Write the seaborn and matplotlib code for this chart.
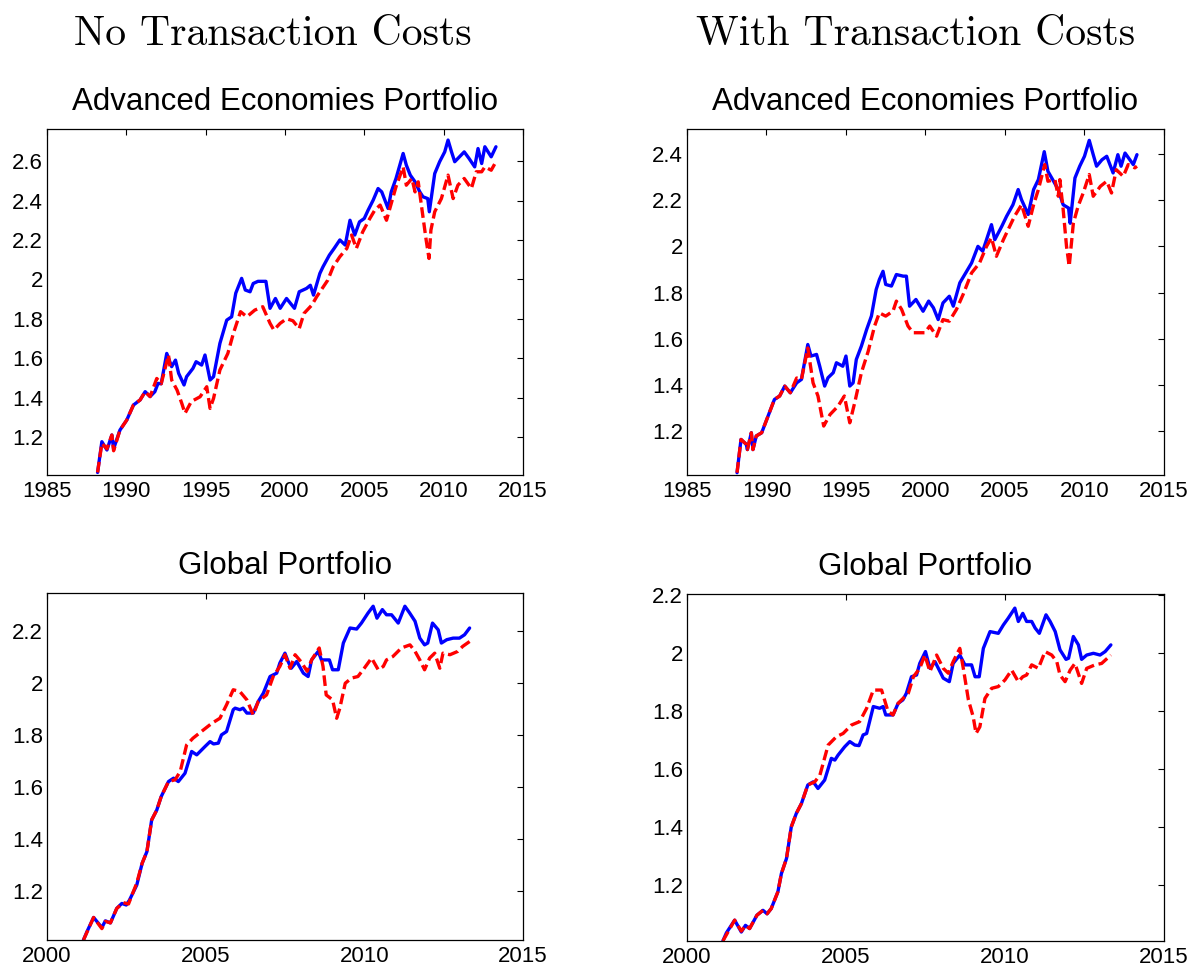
import pandas as pd
import seaborn as sns
import matplotlib.pyplot as plt
from matplotlib.ticker import FuncFormatter

sns.set_style('white')
plt.rcParams['font.family'] = ['Liberation Sans', 'DejaVu Sans']
plt.rcParams['text.color'] = 'black'
plt.rcParams['axes.labelcolor'] = 'black'
plt.rcParams['xtick.color'] = 'black'
plt.rcParams['ytick.color'] = 'black'

# (year, value)
adv_notc_blue = [
    (1988.19, 1.02), (1988.46, 1.176), (1988.78, 1.134), (1989.09, 1.21), (1989.2, 1.14),
    (1989.6, 1.235), (1990.03, 1.286), (1990.45, 1.362), (1990.87, 1.388), (1991.19, 1.43),
    (1991.5, 1.405), (1991.8, 1.43), (1992.0, 1.472), (1992.2, 1.47), (1992.55, 1.624),
    (1992.86, 1.557), (1993.1, 1.59), (1993.3, 1.523), (1993.64, 1.464), (1993.8, 1.506),
    (1994.2, 1.548), (1994.4, 1.582), (1994.75, 1.565), (1994.96, 1.616), (1995.28, 1.489),
    (1995.5, 1.506), (1995.9, 1.675), (1996.33, 1.793), (1996.64, 1.81), (1996.9, 1.93),
    (1997.27, 2.005), (1997.5, 1.946), (1997.8, 1.937), (1998.0, 1.979), (1998.3, 1.99),
    (1998.8, 1.99), (1999.06, 1.853), (1999.4, 1.903), (1999.7, 1.853), (2000.1, 1.903),
    (2000.6, 1.853), (2000.9, 1.937), (2001.36, 1.954), (2001.6, 1.97), (2001.8, 1.92),
    (2002.2, 2.03), (2002.4, 2.064), (2002.8, 2.123), (2003.1, 2.157), (2003.46, 2.2),
    (2003.8, 2.174), (2004.1, 2.30), (2004.4, 2.225), (2004.7, 2.292), (2005.0, 2.309),
    (2005.24, 2.351), (2005.56, 2.402), (2005.87, 2.461), (2006.1, 2.444), (2006.5, 2.36),
    (2006.7, 2.444), (2007.0, 2.512), (2007.45, 2.639), (2007.65, 2.58), (2007.9, 2.529),
    (2008.2, 2.495), (2008.5, 2.444), (2008.7, 2.419), (2009.0, 2.41), (2009.1, 2.343),
    (2009.44, 2.537), (2009.75, 2.597), (2010.07, 2.647), (2010.28, 2.707), (2010.5, 2.647),
    (2010.7, 2.597), (2011.0, 2.622), (2011.3, 2.647), (2011.6, 2.614), (2011.96, 2.571),
    (2012.17, 2.664), (2012.4, 2.588), (2012.6, 2.673), (2013.0, 2.622), (2013.3, 2.673),
]
adv_notc_red = [
    (1988.19, 1.02), (1988.46, 1.168), (1988.78, 1.14), (1989.09, 1.21), (1989.2, 1.13),
    (1989.6, 1.235), (1990.03, 1.286), (1990.45, 1.362), (1990.87, 1.388), (1991.19, 1.43),
    (1991.5, 1.405), (1991.92, 1.497), (1992.2, 1.47), (1992.66, 1.616), (1992.86, 1.489),
    (1993.2, 1.438), (1993.5, 1.37), (1993.7, 1.32), (1994.1, 1.38), (1994.65, 1.404),
    (1995.07, 1.455), (1995.28, 1.345), (1995.5, 1.396), (1995.9, 1.54), (1996.4, 1.624),
    (1996.75, 1.726), (1997.2, 1.836), (1997.6, 1.81), (1998.1, 1.844), (1998.6, 1.861),
    (1999.06, 1.777), (1999.3, 1.743), (1999.7, 1.777), (2000.1, 1.80), (2000.5, 1.79),
    (2000.9, 1.75), (2001.2, 1.827), (2001.7, 1.87), (2002.0, 1.912), (2002.7, 1.996),
    (2003.04, 2.064), (2003.46, 2.115), (2003.9, 2.157), (2004.2, 2.225), (2004.5, 2.157),
    (2004.9, 2.241), (2005.35, 2.309), (2005.66, 2.351), (2006.0, 2.377), (2006.4, 2.30),
    (2006.7, 2.385), (2007.0, 2.47), (2007.45, 2.571), (2007.65, 2.478), (2008.0, 2.512),
    (2008.2, 2.444), (2008.4, 2.495), (2008.7, 2.317), (2008.9, 2.20), (2009.08, 2.106),
    (2009.2, 2.25), (2009.44, 2.343), (2009.86, 2.41), (2010.28, 2.529), (2010.6, 2.41),
    (2010.9, 2.478), (2011.3, 2.512), (2011.75, 2.461), (2012.06, 2.546), (2012.4, 2.546),
    (2012.6, 2.571), (2013.0, 2.554), (2013.3, 2.597),
]
adv_tc_blue = [
    (1988.15, 1.02), (1988.4, 1.164), (1988.73, 1.143), (1988.8, 1.12), (1989.05, 1.193),
    (1989.15, 1.12), (1989.36, 1.179), (1989.7, 1.193), (1990.1, 1.265), (1990.5, 1.337),
    (1990.83, 1.352), (1991.15, 1.395), (1991.5, 1.366), (1991.9, 1.409), (1992.2, 1.424),
    (1992.6, 1.575), (1992.8, 1.525), (1993.15, 1.532), (1993.35, 1.481), (1993.66, 1.395),
    (1993.87, 1.431), (1994.2, 1.453), (1994.4, 1.496), (1994.8, 1.481), (1995.0, 1.525),
    (1995.24, 1.395), (1995.45, 1.409), (1995.65, 1.51), (1995.97, 1.568), (1996.3, 1.64),
    (1996.6, 1.698), (1996.9, 1.813), (1997.1, 1.856), (1997.33, 1.892), (1997.5, 1.835),
    (1997.86, 1.828), (1998.17, 1.878), (1998.6, 1.871), (1998.8, 1.871), (1999.0, 1.741),
    (1999.4, 1.77), (1999.85, 1.719), (2000.2, 1.763), (2000.5, 1.734), (2000.8, 1.683),
    (2001.1, 1.755), (2001.5, 1.784), (2001.75, 1.741), (2002.16, 1.842), (2002.47, 1.878),
    (2002.9, 1.928), (2003.3, 2.0), (2003.6, 1.979), (2003.84, 2.029), (2004.15, 2.094),
    (2004.36, 2.029), (2004.8, 2.087), (2005.1, 2.13), (2005.5, 2.18), (2005.83, 2.246),
    (2006.04, 2.202), (2006.46, 2.138), (2006.8, 2.246), (2007.1, 2.289), (2007.47, 2.41),
    (2007.7, 2.325), (2008.0, 2.289), (2008.35, 2.246), (2008.66, 2.18), (2009.0, 2.166),
    (2009.1, 2.10), (2009.4, 2.296), (2009.7, 2.347), (2010.0, 2.39), (2010.3, 2.459),
    (2010.55, 2.397), (2010.76, 2.347), (2011.1, 2.375), (2011.4, 2.39), (2011.8, 2.318),
    (2012.1, 2.397), (2012.3, 2.347), (2012.55, 2.404), (2013.07, 2.354), (2013.3, 2.397),
]
adv_tc_red = [
    (1988.15, 1.02), (1988.4, 1.164), (1988.73, 1.143), (1988.8, 1.12), (1989.05, 1.193),
    (1989.15, 1.12), (1989.36, 1.179), (1989.7, 1.193), (1990.1, 1.265), (1990.5, 1.337),
    (1990.83, 1.352), (1991.15, 1.395), (1991.5, 1.366), (1991.9, 1.43), (1992.2, 1.424),
    (1992.6, 1.56), (1992.93, 1.409), (1993.24, 1.352), (1993.6, 1.222), (1994.0, 1.272),
    (1994.5, 1.308), (1994.9, 1.352), (1995.24, 1.236), (1995.55, 1.323), (1995.97, 1.453),
    (1996.4, 1.546), (1996.8, 1.655), (1997.1, 1.712), (1997.5, 1.698), (1997.96, 1.72),
    (1998.17, 1.763), (1998.5, 1.727), (1998.9, 1.655), (1999.22, 1.626), (1999.64, 1.626),
    (1999.96, 1.626), (2000.27, 1.655), (2000.7, 1.611), (2001.1, 1.683), (2001.5, 1.676),
    (2001.95, 1.727), (2002.37, 1.792), (2002.9, 1.885), (2003.4, 1.928), (2003.84, 2.0),
    (2004.15, 2.037), (2004.46, 1.957), (2004.9, 2.029), (2005.3, 2.087), (2005.6, 2.13),
    (2006.04, 2.18), (2006.46, 2.087), (2006.8, 2.18), (2007.1, 2.246), (2007.5, 2.354),
    (2007.7, 2.282), (2008.14, 2.289), (2008.35, 2.217), (2008.45, 2.289), (2008.66, 2.159),
    (2008.87, 2.0), (2009.04, 1.914), (2009.3, 2.10), (2009.6, 2.174), (2009.92, 2.231),
    (2010.3, 2.311), (2010.55, 2.217), (2011.0, 2.26), (2011.4, 2.282), (2011.7, 2.231),
    (2012.0, 2.332), (2012.44, 2.303), (2012.75, 2.354), (2013.17, 2.34), (2013.3, 2.347),
]
glob_notc_blue = [
    (2001.15, 1.01), (2001.26, 1.042), (2001.47, 1.097), (2001.73, 1.058), (2001.84, 1.084),
    (2002.0, 1.076), (2002.2, 1.132), (2002.36, 1.151), (2002.5, 1.145), (2002.6, 1.164),
    (2002.83, 1.222), (2003.0, 1.306), (2003.15, 1.351), (2003.3, 1.473), (2003.46, 1.511),
    (2003.6, 1.563), (2003.83, 1.621), (2003.99, 1.634), (2004.14, 1.621), (2004.35, 1.653),
    (2004.56, 1.737), (2004.72, 1.724), (2004.98, 1.756), (2005.14, 1.775), (2005.25, 1.766),
    (2005.4, 1.769), (2005.5, 1.801), (2005.66, 1.814), (2005.87, 1.898), (2005.93, 1.904),
    (2006.08, 1.898), (2006.18, 1.904), (2006.3, 1.885), (2006.5, 1.885), (2006.66, 1.93),
    (2006.82, 1.962), (2007.03, 2.026), (2007.24, 2.039), (2007.34, 2.078), (2007.5, 2.116),
    (2007.6, 2.084), (2007.7, 2.058), (2007.87, 2.084), (2008.08, 2.039), (2008.23, 2.026),
    (2008.34, 2.09), (2008.55, 2.123), (2008.65, 2.09), (2008.9, 2.09), (2009.0, 2.052),
    (2009.18, 2.052), (2009.34, 2.155), (2009.55, 2.213), (2009.76, 2.209), (2009.91, 2.232),
    (2010.12, 2.271), (2010.28, 2.297), (2010.4, 2.251), (2010.57, 2.284), (2010.7, 2.264),
    (2010.86, 2.264), (2011.07, 2.232), (2011.28, 2.297), (2011.43, 2.271), (2011.6, 2.239),
    (2011.75, 2.174), (2011.9, 2.148), (2012.0, 2.155), (2012.15, 2.232), (2012.33, 2.206),
    (2012.43, 2.155), (2012.6, 2.168), (2012.8, 2.174), (2013.0, 2.174), (2013.16, 2.187),
    (2013.32, 2.213),
]
glob_notc_red = [
    (2001.15, 1.01), (2001.47, 1.097), (2001.73, 1.054), (2001.84, 1.082), (2002.0, 1.076),
    (2002.2, 1.132), (2002.41, 1.154), (2002.57, 1.149), (2002.83, 1.23), (2003.0, 1.306),
    (2003.15, 1.351), (2003.3, 1.473), (2003.46, 1.511), (2003.6, 1.563), (2003.83, 1.621),
    (2004.04, 1.628), (2004.2, 1.66), (2004.4, 1.762), (2004.6, 1.788), (2004.93, 1.82),
    (2005.2, 1.846), (2005.45, 1.865), (2005.66, 1.917), (2005.87, 1.975), (2006.08, 1.968),
    (2006.3, 1.936), (2006.5, 1.878), (2006.66, 1.93), (2006.92, 1.955), (2007.13, 2.026),
    (2007.34, 2.065), (2007.5, 2.11), (2007.66, 2.058), (2007.82, 2.11), (2008.0, 2.084),
    (2008.2, 2.046), (2008.34, 2.09), (2008.58, 2.136), (2008.7, 2.065), (2008.8, 1.955),
    (2009.0, 1.936), (2009.13, 1.865), (2009.23, 1.904), (2009.4, 2.0), (2009.6, 2.02),
    (2009.8, 2.026), (2010.0, 2.058), (2010.23, 2.097), (2010.44, 2.052), (2010.6, 2.065),
    (2010.7, 2.09), (2010.9, 2.103), (2011.17, 2.136), (2011.44, 2.148), (2011.6, 2.123),
    (2011.75, 2.09), (2011.9, 2.052), (2012.06, 2.097), (2012.22, 2.116), (2012.38, 2.058),
    (2012.48, 2.116), (2012.7, 2.11), (2012.95, 2.123), (2013.1, 2.142), (2013.32, 2.161),
]
glob_tc_blue = [
    (2001.13, 1.006), (2001.24, 1.034), (2001.5, 1.078), (2001.71, 1.037), (2001.84, 1.06),
    (2001.97, 1.049), (2002.2, 1.095), (2002.39, 1.112), (2002.52, 1.10), (2002.65, 1.118),
    (2002.86, 1.176), (2002.97, 1.239), (2003.13, 1.291), (2003.28, 1.40), (2003.44, 1.447),
    (2003.6, 1.481), (2003.8, 1.545), (2003.97, 1.556), (2004.12, 1.533), (2004.33, 1.562),
    (2004.54, 1.637), (2004.65, 1.631), (2004.75, 1.648), (2004.96, 1.677), (2005.12, 1.695),
    (2005.28, 1.683), (2005.41, 1.681), (2005.54, 1.718), (2005.65, 1.723), (2005.86, 1.816),
    (2006.06, 1.81), (2006.17, 1.816), (2006.25, 1.787), (2006.48, 1.787), (2006.64, 1.827),
    (2006.79, 1.839), (2006.9, 1.862), (2007.06, 1.919), (2007.22, 1.925), (2007.32, 1.965),
    (2007.5, 2.006), (2007.64, 1.948), (2007.8, 1.971), (2008.06, 1.914), (2008.25, 1.902),
    (2008.37, 1.965), (2008.58, 1.994), (2008.74, 1.96), (2008.95, 1.96), (2009.06, 1.919),
    (2009.19, 1.919), (2009.32, 2.017), (2009.53, 2.075), (2009.79, 2.069), (2009.95, 2.098),
    (2010.1, 2.121), (2010.31, 2.156), (2010.42, 2.11), (2010.56, 2.138), (2010.68, 2.11),
    (2010.84, 2.11), (2010.95, 2.087), (2011.08, 2.069), (2011.29, 2.133), (2011.42, 2.11),
    (2011.58, 2.075), (2011.73, 2.012), (2011.92, 1.979), (2012.0, 1.983), (2012.15, 2.058),
    (2012.31, 2.029), (2012.41, 1.979), (2012.57, 1.994), (2012.78, 2.0), (2012.99, 1.994),
    (2013.15, 2.006), (2013.33, 2.029),
]
glob_tc_red = [
    (2001.13, 1.006), (2001.5, 1.078), (2001.71, 1.04), (2001.84, 1.06), (2001.97, 1.049),
    (2002.2, 1.095), (2002.39, 1.112), (2002.52, 1.10), (2002.65, 1.118), (2002.86, 1.176),
    (2002.97, 1.239), (2003.13, 1.291), (2003.28, 1.40), (2003.44, 1.447), (2003.6, 1.481),
    (2003.8, 1.545), (2004.02, 1.556), (2004.18, 1.579), (2004.44, 1.683), (2004.7, 1.712),
    (2004.91, 1.723), (2005.17, 1.752), (2005.43, 1.764), (2005.65, 1.81), (2005.86, 1.873),
    (2006.12, 1.873), (2006.32, 1.80), (2006.48, 1.787), (2006.64, 1.827), (2006.96, 1.862),
    (2007.12, 1.919), (2007.32, 1.948), (2007.48, 1.994), (2007.64, 1.937), (2007.85, 1.994),
    (2008.06, 1.948), (2008.22, 1.931), (2008.37, 1.971), (2008.58, 2.017), (2008.69, 1.948),
    (2008.85, 1.839), (2009.0, 1.781), (2009.09, 1.723), (2009.21, 1.746), (2009.37, 1.844),
    (2009.58, 1.879), (2009.79, 1.885), (2010.0, 1.908), (2010.21, 1.942), (2010.42, 1.902),
    (2010.56, 1.919), (2010.68, 1.925), (2010.84, 1.96), (2011.05, 1.948), (2011.26, 2.006),
    (2011.47, 1.994), (2011.63, 1.971), (2011.73, 1.925), (2011.89, 1.902), (2012.05, 1.942),
    (2012.2, 1.965), (2012.41, 1.896), (2012.57, 1.948), (2012.83, 1.96), (2013.04, 1.965),
    (2013.33, 1.994),
]

col_titles = ['No Transaction Costs', 'With Transaction Costs']
row_titles = ['Advanced Economies Portfolio', 'Global Portfolio']
adv_xticks = [1985, 1990, 1995, 2000, 2005, 2010, 2015]
glob_xticks = [2000, 2005, 2010, 2015]

panels = [
    # rect, blue, red, title, xticks, ylim, yticks
    ([0.0394, 0.5093, 0.3993, 0.3574], adv_notc_blue, adv_notc_red, row_titles[0],
     adv_xticks, (1.007, 2.763), [1.2, 1.4, 1.6, 1.8, 2.0, 2.2, 2.4, 2.6]),
    ([0.5763, 0.5093, 0.4002, 0.3574], adv_tc_blue, adv_tc_red, row_titles[0],
     adv_xticks, (1.01, 2.508), [1.2, 1.4, 1.6, 1.8, 2.0, 2.2, 2.4]),
    ([0.0394, 0.0289, 0.3993, 0.3585], glob_notc_blue, glob_notc_red, row_titles[1],
     glob_xticks, (1.01, 2.348), [1.2, 1.4, 1.6, 1.8, 2.0, 2.2]),
    ([0.5763, 0.0279, 0.4002, 0.3585], glob_tc_blue, glob_tc_red, row_titles[1],
     glob_xticks, (1.006, 2.205), [1.2, 1.4, 1.6, 1.8, 2.0, 2.2]),
]

fig = plt.figure(figsize=(11.92, 9.68), dpi=100)

for rect, blue, red, title, xticks, ylim, yticks in panels:
    ax = fig.add_axes(rect)
    df = pd.concat([
        pd.DataFrame(blue, columns=['year', 'value']).assign(series='blue'),
        pd.DataFrame(red, columns=['year', 'value']).assign(series='red'),
    ], ignore_index=True)
    sns.lineplot(data=df, x='year', y='value', hue='series', style='series',
                 palette={'blue': '#0000ff', 'red': '#ff0000'},
                 dashes={'blue': '', 'red': (3.2, 1.4)},
                 linewidth=2.4, estimator=None, sort=False, legend=False, ax=ax)
    ax.set_xlim(xticks[0], xticks[-1])
    ax.set_ylim(*ylim)
    ax.set_xticks(xticks)
    ax.set_yticks(yticks)
    ax.yaxis.set_major_formatter(FuncFormatter(lambda v, p: '%g' % v))
    ax.set_xlabel('')
    ax.set_ylabel('')
    ax.set_title(title, fontsize=22.5, pad=14, color='black')
    ax.tick_params(direction='in', length=4, width=0.8, labelsize=16,
                   top=True, right=True, colors='black')
    ax.tick_params(axis='y', pad=3)
    ax.tick_params(axis='x', pad=4.5)
    for s in ax.spines.values():
        s.set_color('black')
        s.set_linewidth(0.9)

fig.text(0.229, 0.9535, col_titles[0], family='cmr10', fontsize=30,
         ha='center', va='baseline', color='black')
fig.text(0.7685, 0.9535, col_titles[1], family='cmr10', fontsize=30,
         ha='center', va='baseline', color='black')

fig.savefig('out.png', dpi=100)
